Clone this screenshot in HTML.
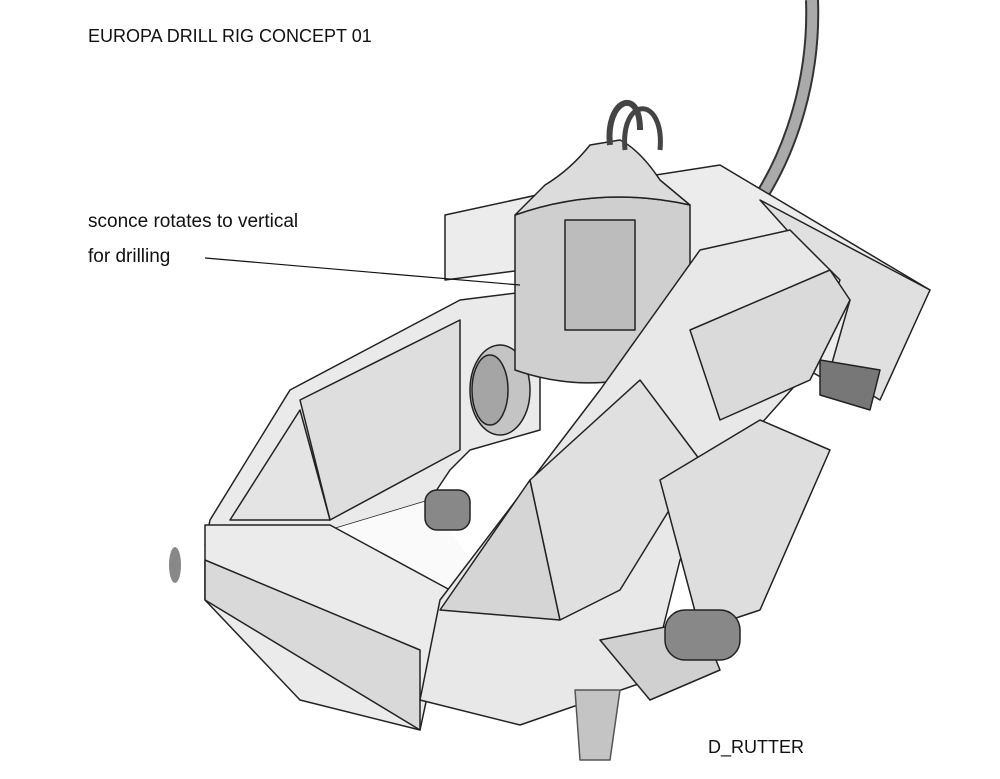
<!DOCTYPE html>
<html><head><style>
html,body{margin:0;padding:0;background:#fff;}
.t{position:absolute;font-family:"Liberation Sans",sans-serif;color:#111;white-space:nowrap;}
</style></head><body>
<div style="position:relative;width:1000px;height:779px;overflow:hidden;background:#fff">
<svg width="1000" height="779" style="position:absolute;left:0;top:0" stroke="#222" stroke-width="1.5" stroke-linejoin="round">
<path d="M812,0 C815,80 790,150 762,195" fill="none" stroke="#333" stroke-width="14"/>
<path d="M812,0 C815,80 790,150 762,195" fill="none" stroke="#aaa" stroke-width="10"/>
<!-- back wing -->
<polygon points="445,215 560,190 720,165 930,290 900,330 860,400 740,330 600,260 445,280" fill="#ececec"/>
<polygon points="760,200 930,290 880,400 830,370 850,300" fill="#e0e0e0"/>
<polygon points="820,360 880,370 870,410 820,395" fill="#777"/>
<!-- left frame (U with open middle) -->
<path d="M210,520 L290,390 L460,300 L540,290 L540,430 L470,450 L450,470 L430,500 L330,530 L205,545 Z" fill="#eaeaea"/>
<polygon points="300,400 460,320 460,450 330,520" fill="#dedede"/>
<polygon points="230,520 300,410 330,520" fill="#e4e4e4"/>
<!-- open area -->
<polygon points="330,530 430,500 470,560 450,590" fill="#fafafa" stroke="none"/>
<!-- bottom slab -->
<polygon points="205,525 330,525 450,590 420,730 300,700 205,600" fill="#ebebeb"/>
<polygon points="205,560 420,650 420,730 205,600" fill="#d9d9d9"/>
<!-- hub -->
<ellipse cx="500" cy="390" rx="30" ry="45" fill="#c4c4c4"/>
<ellipse cx="490" cy="390" rx="18" ry="35" fill="#a5a5a5"/>
<!-- cylinder -->
<path d="M515,215 L515,370 Q600,400 690,360 L690,205 Q600,185 515,215 Z" fill="#cfcfcf"/>
<path d="M515,215 Q600,185 690,205 L660,180 Q640,150 620,140 L590,145 Q570,170 545,185 Z" fill="#dcdcdc"/>
<rect x="565" y="220" width="70" height="110" fill="#bcbcbc"/>
<path d="M610,145 C605,100 640,85 640,130" fill="none" stroke="#444" stroke-width="6"/>
<path d="M625,150 C620,95 665,95 660,150" fill="none" stroke="#444" stroke-width="5"/>
<!-- main hull -->
<polygon points="420,700 440,600 600,390 700,250 790,230 840,280 800,380 720,470 680,560 650,680 520,725" fill="#e8e8e8"/>
<polygon points="690,330 830,270 850,300 810,380 720,420" fill="#dadada"/>
<polygon points="440,610 530,480 560,620" fill="#d5d5d5"/>
<polygon points="530,480 640,380 700,460 620,590 560,620" fill="#e0e0e0"/>
<polygon points="660,480 760,420 830,450 760,610 700,630" fill="#dedede"/>
<polygon points="600,640 700,620 720,670 650,700" fill="#d0d0d0"/>
<rect x="665" y="610" width="75" height="50" rx="20" fill="#888"/>
<rect x="425" y="490" width="45" height="40" rx="12" fill="#888"/>
<polygon points="575,690 620,690 610,760 580,760" fill="#c4c4c4" stroke="#555"/>
<ellipse cx="175" cy="565" rx="6" ry="18" fill="#888" stroke="none"/>
<line x1="205" y1="258" x2="520" y2="285" stroke="#111" stroke-width="1.2"/>
</svg>
<div class="t" style="left:88px;top:26px;font-size:18px">EUROPA DRILL RIG CONCEPT 01</div>
<div class="t" style="left:88px;top:211px;font-size:19px">sconce rotates to vertical</div>
<div class="t" style="left:88px;top:246px;font-size:19px">for drilling</div>
<div class="t" style="left:708px;top:737px;font-size:18px">D_RUTTER</div>
</div>
</body></html>
